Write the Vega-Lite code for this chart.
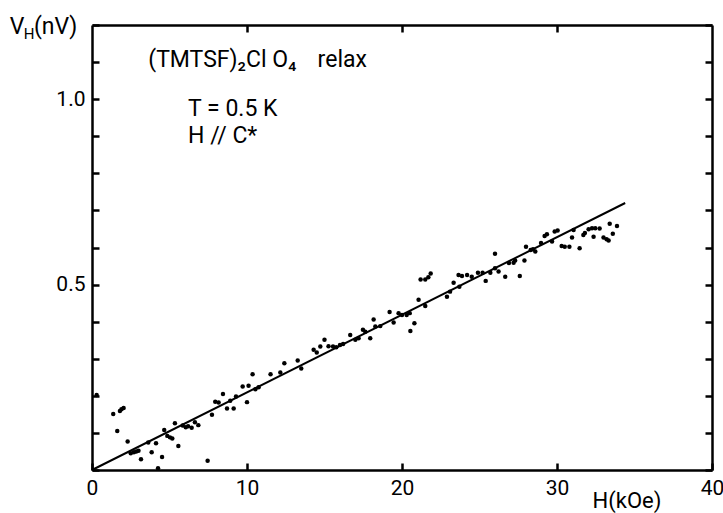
{
  "$schema": "https://vega.github.io/schema/vega-lite/v6.json",
  "width": 620,
  "height": 445,
  "autosize": {"type": "none"},
  "padding": {"left": 92, "top": 25, "right": 11, "bottom": 43},
  "background": "white",
  "config": {
    "view": {"stroke": null},
    "font": "Roboto",
    "axis": {"grid": false, "domain": true, "ticks": true, "domainColor": "#000000", "domainWidth": 2.5, "domainOpacity": 1, "tickColor": "#000000", "tickWidth": 2.5, "tickOpacity": 1, "labelColor": "#000000", "labelFont": "Roboto", "labelFontSize": 21, "titleFont": "Roboto", "titleFontWeight": "normal", "titleColor": "#000000", "zindex": 1}
  },
  "datasets": {
    "pts": [
      {"H": 0.3, "V": 0.202}, {"H": 1.37, "V": 0.151}, {"H": 1.63, "V": 0.105}, {"H": 1.8, "V": 0.159},
      {"H": 1.9, "V": 0.164}, {"H": 2.04, "V": 0.167}, {"H": 2.3, "V": 0.077}, {"H": 2.5, "V": 0.045},
      {"H": 2.7, "V": 0.048}, {"H": 2.85, "V": 0.05}, {"H": 3.0, "V": 0.052}, {"H": 3.16, "V": 0.029},
      {"H": 3.63, "V": 0.074}, {"H": 3.85, "V": 0.048}, {"H": 4.13, "V": 0.072}, {"H": 4.26, "V": 0.005},
      {"H": 4.52, "V": 0.035}, {"H": 4.66, "V": 0.108}, {"H": 4.86, "V": 0.092}, {"H": 5.03, "V": 0.088},
      {"H": 5.18, "V": 0.085}, {"H": 5.35, "V": 0.126}, {"H": 5.57, "V": 0.065}, {"H": 5.85, "V": 0.12},
      {"H": 6.05, "V": 0.115}, {"H": 6.2, "V": 0.118}, {"H": 6.43, "V": 0.114}, {"H": 6.64, "V": 0.129},
      {"H": 6.86, "V": 0.121}, {"H": 7.46, "V": 0.025}, {"H": 7.74, "V": 0.149}, {"H": 7.95, "V": 0.184},
      {"H": 8.17, "V": 0.182}, {"H": 8.45, "V": 0.205}, {"H": 8.71, "V": 0.166}, {"H": 8.92, "V": 0.187},
      {"H": 9.14, "V": 0.166}, {"H": 9.29, "V": 0.198}, {"H": 9.72, "V": 0.225}, {"H": 10.0, "V": 0.183},
      {"H": 10.1, "V": 0.227}, {"H": 10.36, "V": 0.258}, {"H": 10.54, "V": 0.218}, {"H": 10.75, "V": 0.223},
      {"H": 11.52, "V": 0.258}, {"H": 12.15, "V": 0.263}, {"H": 12.41, "V": 0.288}, {"H": 13.27, "V": 0.295},
      {"H": 13.5, "V": 0.274}, {"H": 14.3, "V": 0.324}, {"H": 14.5, "V": 0.317}, {"H": 14.73, "V": 0.333},
      {"H": 15.0, "V": 0.351}, {"H": 15.26, "V": 0.334}, {"H": 15.55, "V": 0.333}, {"H": 15.76, "V": 0.331},
      {"H": 16.0, "V": 0.337}, {"H": 16.2, "V": 0.34}, {"H": 16.66, "V": 0.364}, {"H": 16.99, "V": 0.351},
      {"H": 17.2, "V": 0.355}, {"H": 17.48, "V": 0.378}, {"H": 17.63, "V": 0.373}, {"H": 17.95, "V": 0.355},
      {"H": 18.17, "V": 0.406}, {"H": 18.28, "V": 0.387}, {"H": 18.6, "V": 0.388}, {"H": 19.2, "V": 0.426},
      {"H": 19.46, "V": 0.398}, {"H": 19.78, "V": 0.423}, {"H": 20.0, "V": 0.418}, {"H": 20.3, "V": 0.418},
      {"H": 20.5, "V": 0.423}, {"H": 20.54, "V": 0.375}, {"H": 20.8, "V": 0.396}, {"H": 21.07, "V": 0.459},
      {"H": 21.2, "V": 0.514}, {"H": 21.5, "V": 0.514}, {"H": 21.5, "V": 0.442}, {"H": 21.7, "V": 0.52},
      {"H": 21.85, "V": 0.53}, {"H": 22.9, "V": 0.467}, {"H": 23.1, "V": 0.481}, {"H": 23.33, "V": 0.505},
      {"H": 23.65, "V": 0.526}, {"H": 23.7, "V": 0.494}, {"H": 23.87, "V": 0.523}, {"H": 24.2, "V": 0.526},
      {"H": 24.5, "V": 0.521}, {"H": 24.9, "V": 0.532}, {"H": 25.2, "V": 0.532}, {"H": 25.4, "V": 0.51},
      {"H": 25.7, "V": 0.532}, {"H": 26.0, "V": 0.544}, {"H": 26.0, "V": 0.583}, {"H": 26.23, "V": 0.535},
      {"H": 26.66, "V": 0.521}, {"H": 26.9, "V": 0.558}, {"H": 27.2, "V": 0.559}, {"H": 27.3, "V": 0.565},
      {"H": 27.6, "V": 0.523}, {"H": 27.9, "V": 0.565}, {"H": 28.0, "V": 0.602}, {"H": 28.3, "V": 0.593},
      {"H": 28.45, "V": 0.595}, {"H": 28.6, "V": 0.589}, {"H": 28.97, "V": 0.612}, {"H": 29.2, "V": 0.631},
      {"H": 29.35, "V": 0.636}, {"H": 29.68, "V": 0.616}, {"H": 29.85, "V": 0.643}, {"H": 30.04, "V": 0.646},
      {"H": 30.3, "V": 0.604}, {"H": 30.5, "V": 0.602}, {"H": 30.8, "V": 0.602}, {"H": 30.97, "V": 0.627},
      {"H": 31.07, "V": 0.647}, {"H": 31.46, "V": 0.598}, {"H": 31.7, "V": 0.634}, {"H": 31.8, "V": 0.639},
      {"H": 32.04, "V": 0.649}, {"H": 32.26, "V": 0.652}, {"H": 32.47, "V": 0.652}, {"H": 32.75, "V": 0.651},
      {"H": 32.36, "V": 0.629}, {"H": 33.0, "V": 0.627}, {"H": 33.2, "V": 0.622}, {"H": 33.33, "V": 0.619},
      {"H": 33.4, "V": 0.664}, {"H": 33.6, "V": 0.637}, {"H": 33.87, "V": 0.658}
    ],
    "fit": [{"H": 0, "V": 0}, {"H": 34.4, "V": 0.72}],
    "notes": [
      {"H": 3.63, "V": 1.087, "t": "(TMTSF)₂Cl O₄\u2002\u2009\u2009relax"},
      {"H": 6.2, "V": 0.955, "t": "T = 0.5 K"},
      {"H": 6.2, "V": 0.882, "t": "H // C*"},
      {"H": -5.3, "V": 1.176, "t": "V"},
      {"H": -3.75, "V": 1.176, "t": "(nV)"}
    ],
    "sub": [{"H": -4.4, "V": 1.163, "t": "H"}]
  },
  "layer": [
    {
      "data": {"name": "pts"},
      "mark": {"type": "circle", "color": "black", "opacity": 1, "size": 20},
      "encoding": {
        "x": {"field": "H", "type": "quantitative", "scale": {"domain": [0, 40], "nice": false, "zero": false},
              "axis": {"values": [0, 10, 20, 30, 40], "tickSize": -7, "labelPadding": 14, "labelFlush": false, "title": "H(kOe)", "titleFontSize": 22, "titleX": 500, "titleY": 37, "titleAlign": "left", "titleBaseline": "alphabetic", "titleAnchor": null}},
        "y": {"field": "V", "type": "quantitative", "scale": {"domain": [0, 1.2], "nice": false},
              "axis": {"values": [0, 0.1, 0.2, 0.3, 0.4, 0.5, 0.6, 0.7, 0.8, 0.9, 1.0, 1.1, 1.2], "tickSize": -7, "labelPadding": 14, "labelFlush": false, "labelExpr": "datum.value == 0.5 ? '0.5' : (datum.value == 1 ? '1.0' : '')", "title": null}}
      }
    },
    {
      "data": {"name": "fit"},
      "mark": {"type": "line", "color": "black", "strokeWidth": 2},
      "encoding": {
        "x": {"field": "H", "type": "quantitative", "axis": null},
        "y": {"field": "V", "type": "quantitative", "axis": null}
      }
    },
    {
      "data": {"name": "notes"},
      "mark": {"type": "text", "align": "left", "baseline": "alphabetic", "fontSize": 23, "color": "black"},
      "encoding": {
        "x": {"field": "H", "type": "quantitative", "axis": null},
        "y": {"field": "V", "type": "quantitative", "axis": null},
        "text": {"field": "t"}
      }
    },
    {
      "data": {"name": "sub"},
      "mark": {"type": "text", "align": "left", "baseline": "alphabetic", "fontSize": 15, "color": "black"},
      "encoding": {
        "x": {"field": "H", "type": "quantitative", "axis": null},
        "y": {"field": "V", "type": "quantitative", "axis": null},
        "text": {"field": "t"}
      }
    },
    {
      "data": {"name": "fit"},
      "mark": {"type": "point", "opacity": 0},
      "encoding": {
        "x": {"field": "H", "type": "quantitative", "axis": {"orient": "top", "values": [10, 20, 30], "tickSize": -7, "labels": false, "title": null}},
        "y": {"field": "V", "type": "quantitative", "axis": {"orient": "right", "values": [0, 0.1, 0.2, 0.3, 0.4, 0.5, 0.6, 0.7, 0.8, 0.9, 1.0, 1.1, 1.2], "tickSize": -7, "labels": false, "title": null}}
      }
    }
  ],
  "resolve": {"axis": {"x": "independent", "y": "independent"}}
}
